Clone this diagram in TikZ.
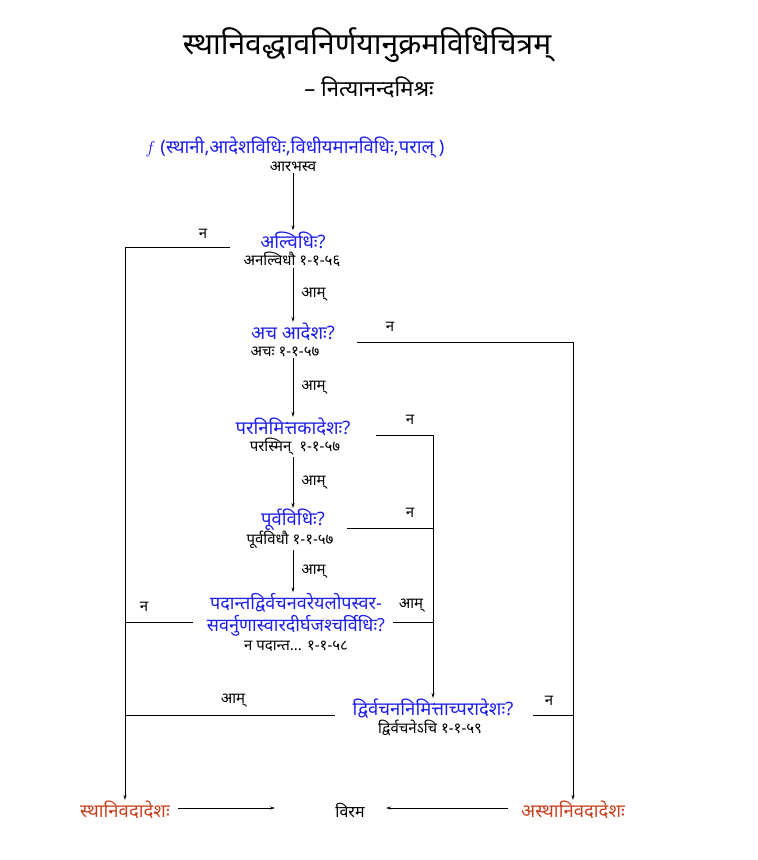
\documentclass[tikz,border=0pt]{standalone}
\usepackage{fontspec}
\setmainfont{Noto Sans}[Script=Devanagari]
\usetikzlibrary{arrows.meta}
\definecolor{qblue}{RGB}{30,30,235}
\definecolor{ered}{RGB}{200,65,30}
\begin{document}
\begin{tikzpicture}[x=1pt,y=-1pt,
  title/.style={font=\fontsize{30}{34}\selectfont, inner sep=1pt},
  subt/.style={font=\fontsize{22}{26}\selectfont, inner sep=1pt},
  q/.style={text=qblue, font=\fontsize{18.5}{20}\selectfont, inner sep=1pt},
  refx/.style={font=\fontsize{15}{17}\selectfont, inner sep=1pt},
  lab/.style={font=\fontsize{15}{17}\selectfont, inner sep=1pt},
  fin/.style={text=ered, font=\fontsize{18.5}{20}\selectfont, inner sep=1pt},
  ln/.style={draw, line width=0.7pt},
  arr/.style={ln, -{Stealth[length=5pt,width=3pt]}}]
\useasboundingbox (0,0) rectangle (758,860);

\node[title] (title) at (367,45) {स्थानिवद्धावनिर्णयानुक्रमविधिचित्रम्};
\node[subt] (sub) at (369,87) {– नित्यानन्दमिश्रः};

\node[q] (start) at (295,148) {$f$ (स्थानी,आदेशविधिः,विधीयमानविधिः,पराल् )};
\node[refx] (startr) at (293,167) {आरभस्व};

\node[q] (q1) at (293,240) {अल्विधिः?};
\node[refx] (r1) at (292,259) {अनल्विधौ १-१-५६};
\node[q] (q2) at (293,332) {अच आदेशः?};
\node[refx] (r2) at (285,352) {अचः १-१-५७};
\node[q] (q3) at (293,427) {परनिमित्तकादेशः?};
\node[refx] (r3) at (295,447) {परस्मिन्\ \ १-१-५७};
\node[q] (q4) at (293,520) {पूर्वविधिः?};
\node[refx] (r4) at (290,540) {पूर्वविधौ १-१-५७};
\node[q, align=center, font=\fontsize{18}{20}\selectfont] (q5) at (296,615) {पदान्तद्विर्वचनवरेयलोपस्वर-\\[2pt]सवर्नुणास्वारदीर्घजश्चर्विधिः?};
\node[refx] (r5) at (296,646) {न पदान्त... १-१-५८};
\node[q] (q6) at (433,709) {द्विर्वचननिमित्ताच्परादेशः?};
\node[refx] (r6) at (430,728) {द्विर्वचनेऽचि १-१-५९};

\node[fin] (e1) at (125,810) {स्थानिवदादेशः};
\node[lab, font=\fontsize{16}{18}\selectfont] (stop) at (350,810) {विरम};
\node[fin] (e2) at (573,810) {अस्थानिवदादेशः};

% yes chain (vertical at x of question nodes)
\draw[arr] (q1.north |- startr.south) -- (q1.north);
\draw[arr] (q2.north |- r1.south) -- node[lab, right=7pt] (y1) {आम्} (q2.north);
\draw[arr] (q3.north |- r2.south) -- node[lab, right=7pt] (y2) {आम्} (q3.north);
\draw[arr] (q4.north |- r3.south) -- node[lab, right=7pt] (y3) {आम्} (q4.north);
\draw[arr] (q4.south |- r4.south) -- node[lab, right=7pt] (y4) {आम्} (q4.south |- q5.north);

% junction coordinates
\coordinate (n1) at (230,247);
\coordinate (n2) at (357,342);
\coordinate (n3) at (376,435);
\coordinate (n4) at (347,528);
\coordinate (j4) at (433,528);
\coordinate (n5l) at (193,622);
\coordinate (j5l) at (125,622);
\coordinate (n5r) at (393,622);
\coordinate (j5r) at (433,622);
\coordinate (n6l) at (335,715);
\coordinate (j6l) at (125,715);
\coordinate (n6r) at (533,715);
\coordinate (j6r) at (573,715);

\draw[arr] (n1) -| (e1);
\node[lab] (l1) at (203,234) {न};
\draw[arr] (n2) -| (e2);
\node[lab] (l2) at (390,327) {न};
\draw[arr] (n3) -| (q6);
\node[lab] (l3) at (410,420) {न};
\draw[ln] (n4) -- (j4);
\node[lab] (l4) at (410,513) {न};
\draw[ln] (n5l) -- (j5l);
\node[lab] (l5l) at (144,607) {न};
\draw[ln] (n5r) -- (j5r);
\node[lab] (l5r) at (411,606) {आम्};
\draw[ln] (n6l) -- (j6l);
\node[lab] (l6l) at (233,701) {आम्};
\draw[ln] (n6r) -- (j6r);
\node[lab] (l6r) at (549,701) {न};

\coordinate (a1s) at (178,808);
\coordinate (a1e) at (275,808);
\coordinate (a2s) at (508,808);
\coordinate (a2e) at (386,808);
\draw[arr] (a1s) -- (a1e);
\draw[arr] (a2s) -- (a2e);
\end{tikzpicture}
\end{document}
